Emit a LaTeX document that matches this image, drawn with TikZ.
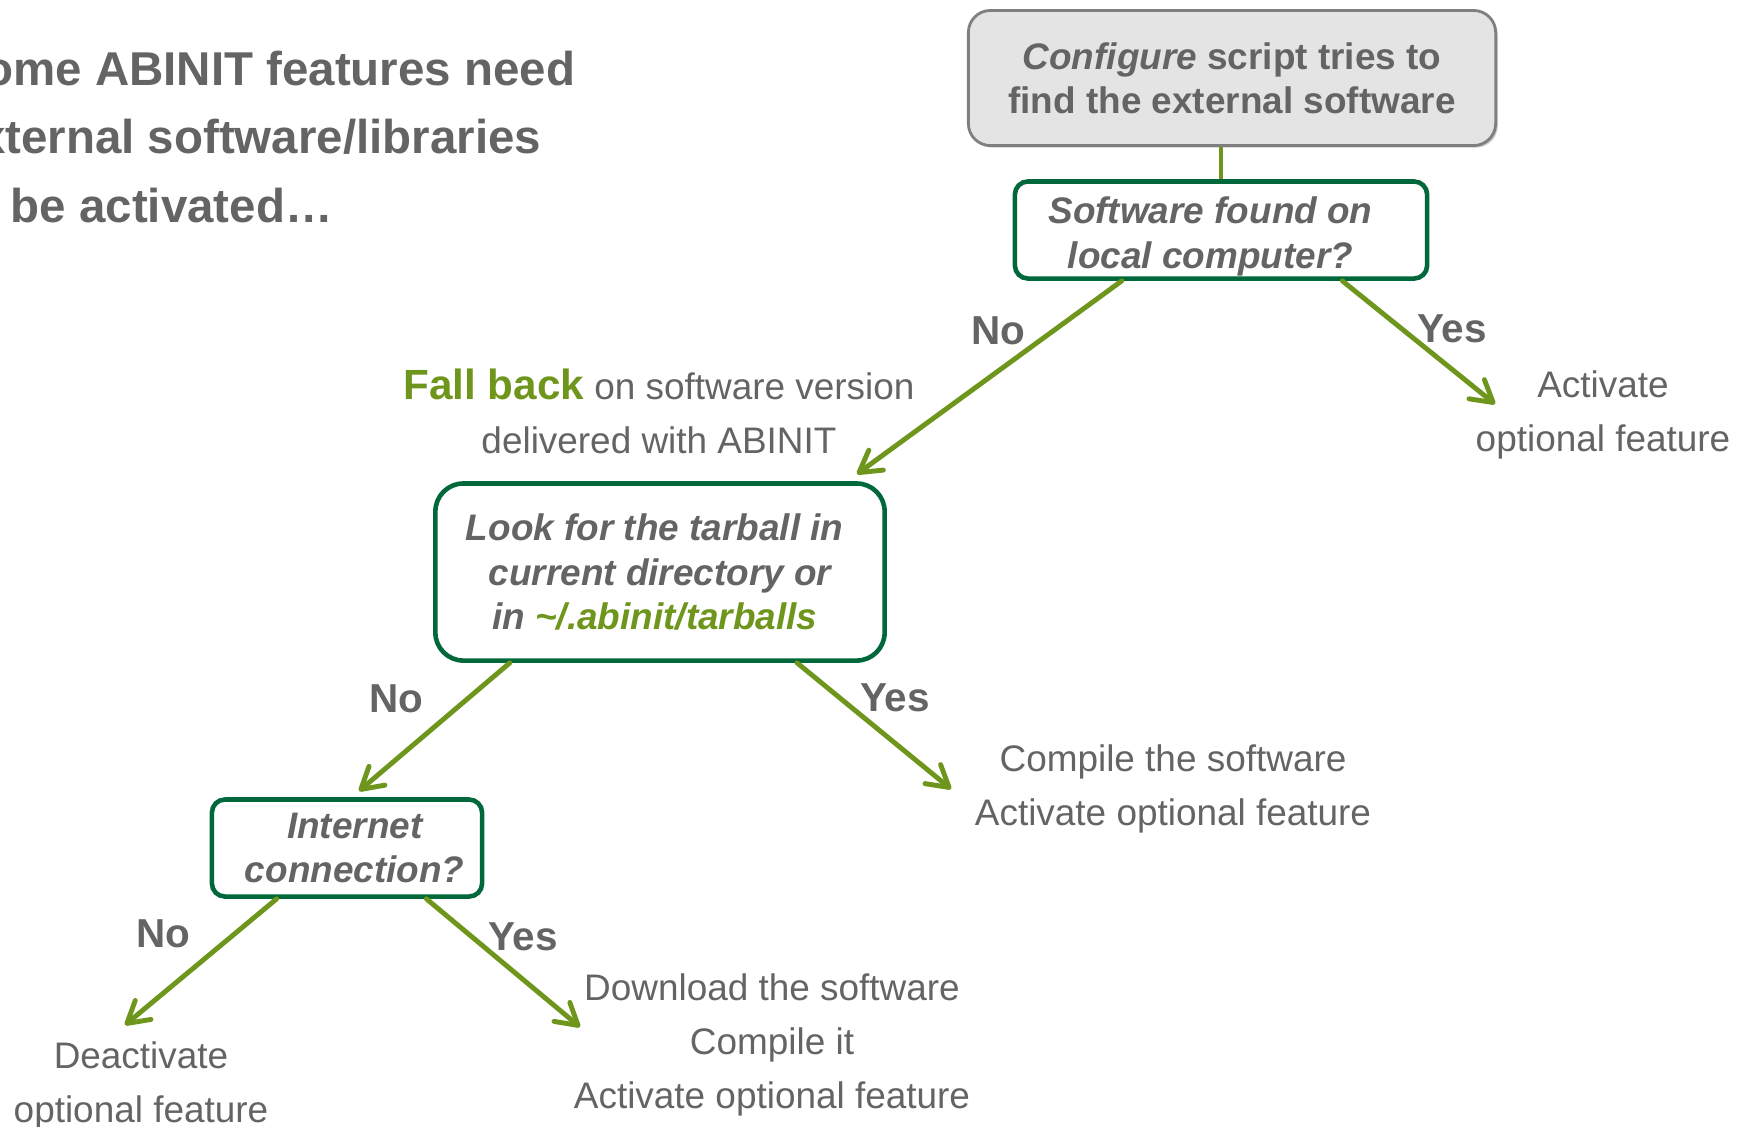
\documentclass[tikz,border=0pt]{standalone}
\usepackage{fontspec}
\setmainfont{Liberation Sans}
\usetikzlibrary{arrows.meta,calc,shadows}
\definecolor{txtgray}{HTML}{646464}
\definecolor{olive}{HTML}{6F961C}
\definecolor{boxgreen}{HTML}{00683A}
\definecolor{cfgfill}{HTML}{E4E4E4}
\definecolor{cfgdraw}{HTML}{7F7F7F}

\begin{document}
\begin{tikzpicture}[x=0.01cm,y=-0.01cm,
  every node/.style={text=txtgray, inner sep=0pt},
  boxtext/.style={font=\fontsize{10.5}{12.6}\selectfont\bfseries\itshape, align=center},
  decision/.style={boxtext, draw=boxgreen, line width=1.3pt, fill=white, rounded corners=0.13cm},
  plain/.style={font=\fontsize{10.5}{15.3}\selectfont, align=center},
  answer/.style={font=\fontsize{11.5}{13}\selectfont\bfseries},
  flow/.style={draw=olive, line width=1.4pt, line cap=round,
    -{Straight Barb[length=6pt,width=7pt,line cap=round,line join=round]}},
  link/.style={draw=olive, line width=1.4pt}
]
\useasboundingbox (0,0) rectangle (1749,1126);

% heading
\node[font=\fontsize{13.5}{19.6}\selectfont\bfseries, align=left, anchor=west] (title)
  at (-48,137) {Some ABINIT features need\\external software/libraries\\to be activated…};

% boxes
\node[font=\fontsize{10.5}{12.6}\selectfont\bfseries, align=center, draw=cfgdraw, line width=0.8pt,
  fill=cfgfill, rounded corners=0.22cm, minimum width=5.27cm, minimum height=1.35cm,
  drop shadow={shadow xshift=0.6pt, shadow yshift=-0.6pt, opacity=0.35, fill=black!60}]
  (cfg) at (1232,78) {\textit{Configure} script tries to\\find the external software};
\node[decision, minimum width=4.12cm, minimum height=0.97cm] (sw) at (1221,230)
  {\rule{0pt}{11.2pt}Software found on\hspace*{6pt}\\local computer?\hspace*{6pt}};
\node[decision, rounded corners=0.28cm, minimum width=4.49cm, minimum height=1.77cm] (look)
  at (660,572) {Look for the tarball in\hspace*{3pt}\\current directory or\hspace*{3pt}\\in {\color{olive}\textasciitilde/.abinit/tarballs}\hspace*{3pt}};
\node[decision, minimum width=2.70cm, minimum height=0.97cm] (inet) at (347,848)
  {\hspace*{4.4pt}Internet\\\hspace*{4.4pt}connection?};

% outcome texts
\node[plain] (fb) at (659,411)
  {{\color{olive}\fontsize{12}{15.3}\selectfont\bfseries Fall back} on software version\\delivered with ABINIT};
\node[plain] (act) at (1603,415) {Activate\\optional feature};
\node[plain] (comp) at (1173,789) {Compile the software\\Activate optional feature};
\node[plain] (deact) at (141,1086) {Deactivate\\optional feature};
\node[plain] (dl) at (772,1045) {Download the software\\Compile it\\Activate optional feature};

% answer labels
\node[answer] (no1) at (998,331) {No};
\node[answer] (yes1) at (1452,329) {Yes};
\node[answer] (no2) at (396,699) {No};
\node[answer] (yes2) at (895,698) {Yes};
\node[answer] (no3) at (163,934) {No};
\node[answer] (yes3) at (523,937) {Yes};

% arrow ends
\coordinate (swno) at (857,474);
\coordinate (swyes) at (1495,404);
\coordinate (lookno) at (359,791);
\coordinate (lookyes) at (951,789);
\coordinate (inetno) at (125,1025);
\coordinate (inetyes) at (580,1027);

% connectors
\draw[link] (sw.north) -- (sw.north |- cfg.south);
\draw[flow] ($(sw.south west)!0.262!(sw.south east)$) -- (swno);
\draw[flow] ($(sw.south west)!0.791!(sw.south east)$) -- (swyes);
\draw[flow] ($(look.south west)!0.169!(look.south east)$) -- (lookno);
\draw[flow] ($(look.south west)!0.802!(look.south east)$) -- (lookyes);
\draw[flow] ($(inet.south west)!0.244!(inet.south east)$) -- (inetno);
\draw[flow] ($(inet.south west)!0.789!(inet.south east)$) -- (inetyes);
\end{tikzpicture}
\end{document}
